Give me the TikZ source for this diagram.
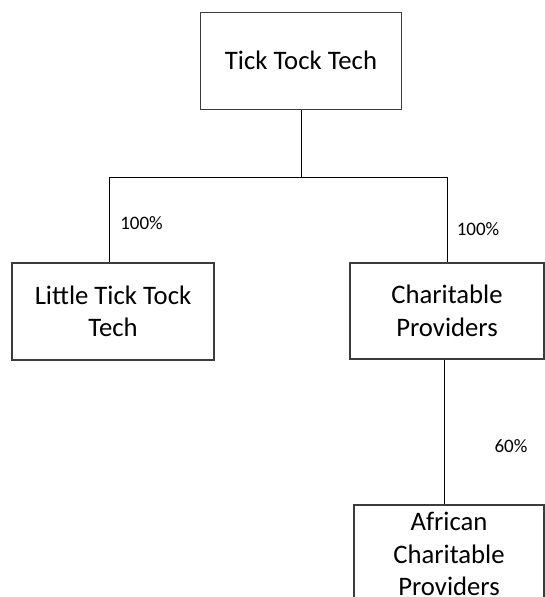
\documentclass[tikz,border=0pt]{standalone}
\usepackage{fontspec}
\setmainfont{Carlito}
\usepackage{tikz}
\usetikzlibrary{positioning}
\definecolor{boxgray}{RGB}{60,60,60}

\begin{document}
\begin{tikzpicture}[
    x=1pt, y=-1pt,
    company/.style={rectangle, draw=boxgray, line width=1.3pt, fill=white, align=center, inner sep=0pt, font=\fontsize{26.7}{32.6}\selectfont},
    link/.style={draw=black, line width=1pt},
    share/.style={font=\fontsize{19}{23}\selectfont, inner sep=0pt}
]
    \useasboundingbox (0,0) rectangle (545,597);

    % Parent company
    \node[company, minimum width=201pt, minimum height=97pt] (ttt) at (301,60.7) {Tick Tock Tech};

    % Subsidiaries
    \node[company, minimum width=202pt, minimum height=97pt] (little) at (113,311.5) {Little Tick Tock\\Tech};
    \node[company, minimum width=194pt, minimum height=96pt] (charity) at (447,311) {Charitable\\Providers};

    % Second level
    \node[company, minimum width=190pt, minimum height=98pt] (african) at (449,554) {African\\Charitable\\Providers};

    % Branch points
    \coordinate (split) at (301,177);
    \coordinate (lsplit) at (109,177);
    \coordinate (rsplit) at (447,177);

    % Ownership lines
    \draw[link] (ttt.south) -- (split);
    \draw[link] (lsplit) -- (rsplit);
    \draw[link] (lsplit) -- (lsplit |- little.north);
    \draw[link] (rsplit) -- (charity.north);
    \draw[link] ([xshift=-3pt]charity.south) -- ([xshift=-3pt]charity.south |- african.north);

    % Shares
    \node[share] (s1) at (141.5,222.6) {100\%};
    \node[share] (s2) at (478,229.5) {100\%};
    \node[share] (s3) at (511,446) {60\%};
\end{tikzpicture}
\end{document}
